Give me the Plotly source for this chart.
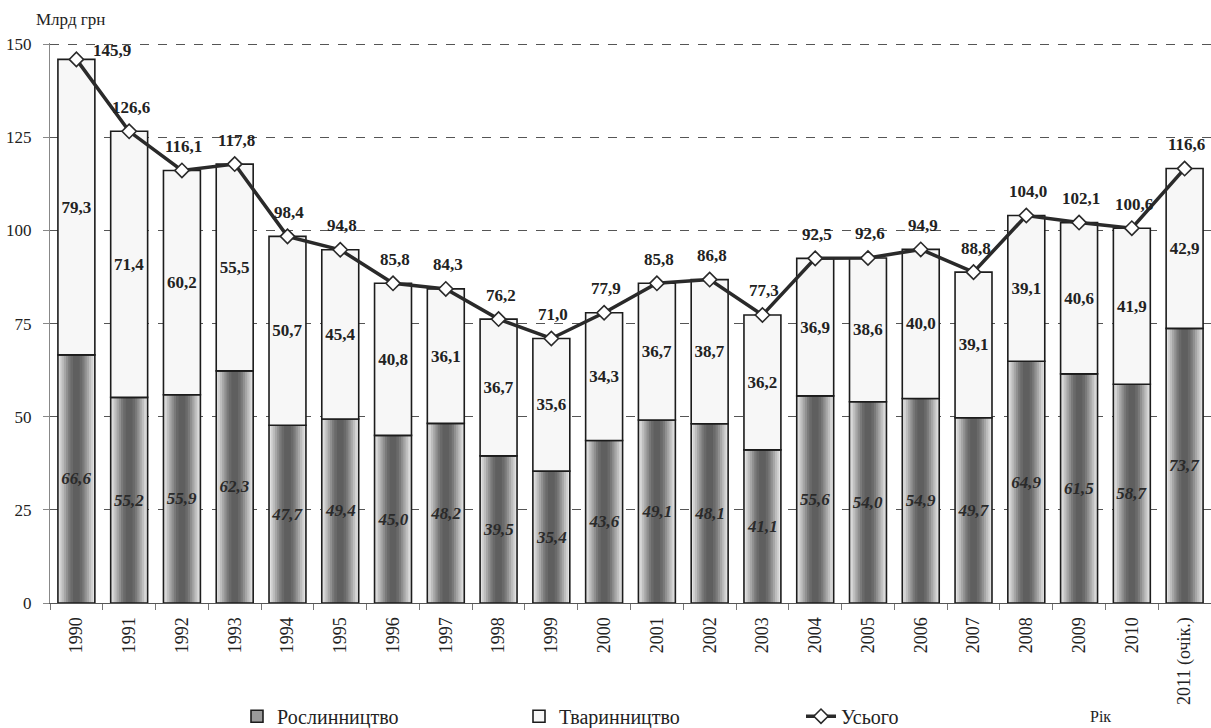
import plotly.graph_objects as go

# ---------------- data ----------------
years = ["1990", "1991", "1992", "1993", "1994", "1995", "1996", "1997", "1998", "1999",
         "2000", "2001", "2002", "2003", "2004", "2005", "2006", "2007", "2008", "2009",
         "2010", "2011 (очік.)"]
crop = [66.6, 55.2, 55.9, 62.3, 47.7, 49.4, 45.0, 48.2, 39.5, 35.4, 43.6,
        49.1, 48.1, 41.1, 55.6, 54.0, 54.9, 49.7, 64.9, 61.5, 58.7, 73.7]
livestock = [79.3, 71.4, 60.2, 55.5, 50.7, 45.4, 40.8, 36.1, 36.7, 35.6, 34.3,
             36.7, 38.7, 36.2, 36.9, 38.6, 40.0, 39.1, 39.1, 40.6, 41.9, 42.9]
total = [145.9, 126.6, 116.1, 117.8, 98.4, 94.8, 85.8, 84.3, 76.2, 71.0, 77.9,
         85.8, 86.8, 77.3, 92.5, 92.6, 94.9, 88.8, 104.0, 102.1, 100.6, 116.6]
y_ticks = [0, 25, 50, 75, 100, 125, 150]

# ---------------- style ----------------
FONT = "'Liberation Serif', 'Times New Roman', Times, serif"
BAR_W = 0.7
OUTLINE = "#1c1c1c"
# gradient layers (width fraction of bar, colour) from outer to inner
grad = [(1.00, "#e4e4e4"), (0.90, "#d2d2d2"), (0.80, "#bdbdbd"), (0.68, "#a6a6a6"),
        (0.56, "#909090"), (0.44, "#7a7a7a"), (0.32, "#6a6a6a"), (0.18, "#5f5f5f")]

fig = go.Figure()

for frac, col in grad:
    fig.add_trace(go.Bar(
        x=years, y=crop, width=BAR_W * frac, marker=dict(color=col, line=dict(width=0)),
        showlegend=False, hoverinfo="skip"))

# outline + labels of crop bars
fig.add_trace(go.Bar(
    x=years, y=crop, width=BAR_W, name="Рослинництво",
    marker=dict(color="rgba(0,0,0,0)", line=dict(color=OUTLINE, width=1.6)),
    texttemplate="%{y:.1f}", textposition="inside", insidetextanchor="middle",
    constraintext="none", textangle=0,
    textfont=dict(family=FONT, size=17, color="#2a2a2a", style="italic", weight="bold"),
    showlegend=False, hoverinfo="skip"))

# legend-only entry for crop (gradient can't be shown in legend icon)
fig.add_trace(go.Bar(
    x=[None], y=[None], name="Рослинництво",
    marker=dict(color="#9a9a9a", line=dict(color=OUTLINE, width=1.6)),
    showlegend=True))

fig.add_trace(go.Bar(
    x=years, y=livestock, base=crop, width=BAR_W, name="Тваринництво",
    marker=dict(color="#f7f7f7", line=dict(color=OUTLINE, width=1.6)),
    texttemplate="%{y:.1f}", textposition="inside", insidetextanchor="middle",
    constraintext="none", textangle=0,
    textfont=dict(family=FONT, size=17, color="#222222", weight="bold"),
    hoverinfo="skip"))

fig.add_trace(go.Scatter(
    x=years, y=total, name="Усього", mode="lines+markers",
    line=dict(color="#2a2a2a", width=3.5),
    marker=dict(symbol="diamond", size=11, color="white",
                line=dict(color="#2a2a2a", width=1.6)),
    hoverinfo="skip"))

annotations = []
for i, t in enumerate(total):
    near_top = t > 140
    annotations.append(dict(
        x=i, y=t, xref="x", yref="y", text=f"{t:.1f}".replace(".", ","),
        showarrow=False, yshift=9 if near_top else 24, xshift=36 if near_top else 2,
        font=dict(family=FONT, size=17, color="#222222", weight="bold")))

annotations.append(dict(
    x=0, y=1, xref="paper", yref="paper", text="Млрд грн", showarrow=False,
    xanchor="center", yanchor="middle", xshift=20, yshift=24,
    font=dict(family=FONT, size=17, color="#222222")))
annotations.append(dict(
    x=(1100 - 50) / 1161, y=(603 - 716) / 559, xref="paper", yref="paper", text="Рік",
    showarrow=False, xanchor="center", yanchor="middle",
    font=dict(family=FONT, size=16, color="#222222")))

fig.update_layout(
    width=1211, height=728,
    margin=dict(l=50, r=0, t=43, b=125, autoexpand=False),
    barmode="overlay",
    separators=", ",
    plot_bgcolor="white", paper_bgcolor="white",
    font=dict(family=FONT, size=17, color="#222222"),
    showlegend=True,
    legend=dict(orientation="h", x=(237 - 50) / 1161, xanchor="left",
                y=(603 - 716) / 559, yanchor="middle",
                entrywidth=237, entrywidthmode="pixels",
                font=dict(family=FONT, size=20, color="#222222"),
                bgcolor="rgba(0,0,0,0)"),
    annotations=annotations,
)

fig.update_xaxes(
    type="category", showline=True, linecolor="#555555", linewidth=1.2,
    ticks="outside", tickson="boundaries", ticklen=6, tickcolor="#777777",
    tickangle=-90, tickfont=dict(family=FONT, size=18, color="#222222"),
    ticklabelstandoff=6, showgrid=False, range=[-0.5, len(years) - 0.5],
    automargin=False)

fig.update_yaxes(
    range=[0, 150.3], tickvals=y_ticks, showline=True, linecolor="#888888", linewidth=1.2,
    ticks="outside", ticklen=6, tickcolor="#888888",
    tickfont=dict(family=FONT, size=17, color="#222222"), ticklabelstandoff=8,
    showgrid=True, gridcolor="#555555", griddash="dash", gridwidth=1, zeroline=False,
    automargin=False)

fig.write_html(
    "out.html",
    config={"displayModeBar": False},
    post_script="document.body.style.margin='0';document.body.style.overflow='hidden';")
